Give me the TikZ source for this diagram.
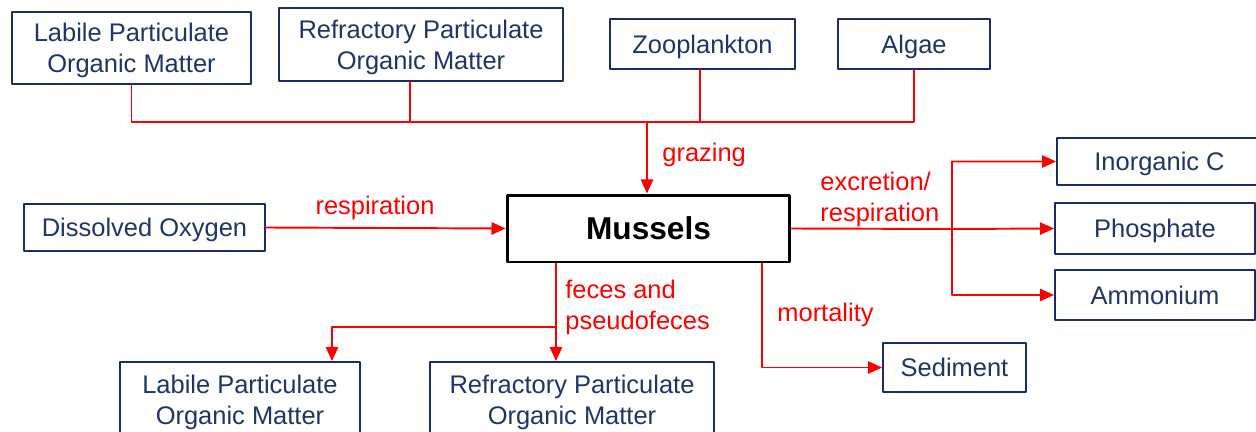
\documentclass[tikz,border=0pt]{standalone}
\usepackage{fontspec}
\setmainfont{Liberation Sans}
\usepackage{tikz}
\usetikzlibrary{calc,arrows.meta}
\definecolor{xanh}{HTML}{1B2A6B}
\definecolor{chu}{HTML}{1F3568}

\begin{document}
\begin{tikzpicture}[>={Triangle[length=8pt,width=7pt]}, line join=round, line cap=round, x=0.02cm, y=-0.02cm,
	hop/.style={draw=xanh, line width=1.1pt, text=chu, align=center, inner sep=0pt, text depth=0pt, font=\fontsize{14.5}{17.6}\selectfont},
	haidong/.style={text depth=-2.2pt},
	nhan/.style={text=red, inner sep=0pt, align=left, font=\fontsize{14.5}{17.6}\selectfont},
	duong/.style={red, line width=1.1pt},
	muiten/.style={duong, ->}]
	\useasboundingbox (0,0) rectangle (1256,432);
	% Các hộp phía trên
	\node[hop, haidong, minimum width=4.78cm, minimum height=1.44cm] (lpomT) at (131.5,48) {Labile Particulate\\Organic Matter};
	\node[hop, haidong, minimum width=5.68cm, minimum height=1.46cm] (rpomT) at (421,44.5) {Refractory Particulate\\Organic Matter};
	\node[hop, minimum width=3.7cm, minimum height=1.0cm] (zoo) at (702.5,44) {Zooplankton};
	\node[hop, minimum width=3.04cm, minimum height=1.0cm] (algae) at (914,44) {Algae};
	% Hộp trung tâm
	\node[draw, line width=1.7pt, inner sep=0pt, minimum width=5.66cm, minimum height=1.34cm, font=\fontsize{18}{20}\selectfont\bfseries] (mussels) at (648.5,228.5) {Mussels};
	\node[hop, minimum width=4.82cm, minimum height=0.94cm] (oxy) at (144.5,227.5) {Dissolved Oxygen};
	% Các hộp bên phải
	\node[hop, minimum width=4.1cm, minimum height=0.94cm] (inorgC) at (1159.5,161.5) {Inorganic C};
	\node[hop, minimum width=4.0cm, minimum height=1.02cm] (phos) at (1155,228.5) {Phosphate};
	\node[hop, minimum width=4.0cm, minimum height=1.0cm] (ammon) at (1155,295) {Ammonium};
	\node[hop, minimum width=2.86cm, minimum height=0.98cm] (sed) at (954.5,367.5) {Sediment};
	% Các hộp phía dưới
	\node[hop, haidong, minimum width=4.8cm, minimum height=1.52cm] (lpomB) at (240,400) {Labile Particulate\\Organic Matter};
	\node[hop, haidong, minimum width=5.68cm, minimum height=1.52cm] (rpomB) at (572,400) {Refractory Particulate\\Organic Matter};
	% Điểm nối
	\coordinate (tren) at (647,122);
	\coordinate (phai) at (952,229);
	\coordinate (phan) at (556,327);
	\coordinate (trai) at (332,327);
	\coordinate (chet) at (762,368);
	% Đường nối
	\draw[duong] (lpomT.south) |- (tren) -| (algae.south);
	\draw[duong] ([xshift=-0.22cm]rpomT.south) |- (tren);
	\draw[duong] ([xshift=-0.05cm]zoo.south) |- (tren);
	\draw[muiten] (tren) -- (tren |- mussels.north);
	\draw[muiten] (oxy.east) -- (mussels.west);
	\draw[muiten] (mussels.east) -- (phai) |- (inorgC.west);
	\draw[muiten] (phai) -- (phos.west);
	\draw[muiten] (phai) |- (ammon.west);
	\draw[muiten] (phan |- mussels.south) -- (phan |- rpomB.north);
	\draw[muiten] (phan) -- (trai) -- (trai |- lpomB.north);
	\draw[muiten] (chet |- mussels.south) |- (sed.west);
	% Nhãn
	\node[nhan, anchor=west] (lgraz) at (662,154.5) {grazing};
	\node[nhan] (lresp) at (375,207.5) {respiration};
	\node[nhan, anchor=west] (lexc) at (820,199) {excretion/\\respiration};
	\node[nhan, anchor=west] (lfec) at (565,307) {feces and\\pseudofeces};
	\node[nhan, anchor=west] (lmort) at (777,314.5) {mortality};
\end{tikzpicture}
\end{document}
